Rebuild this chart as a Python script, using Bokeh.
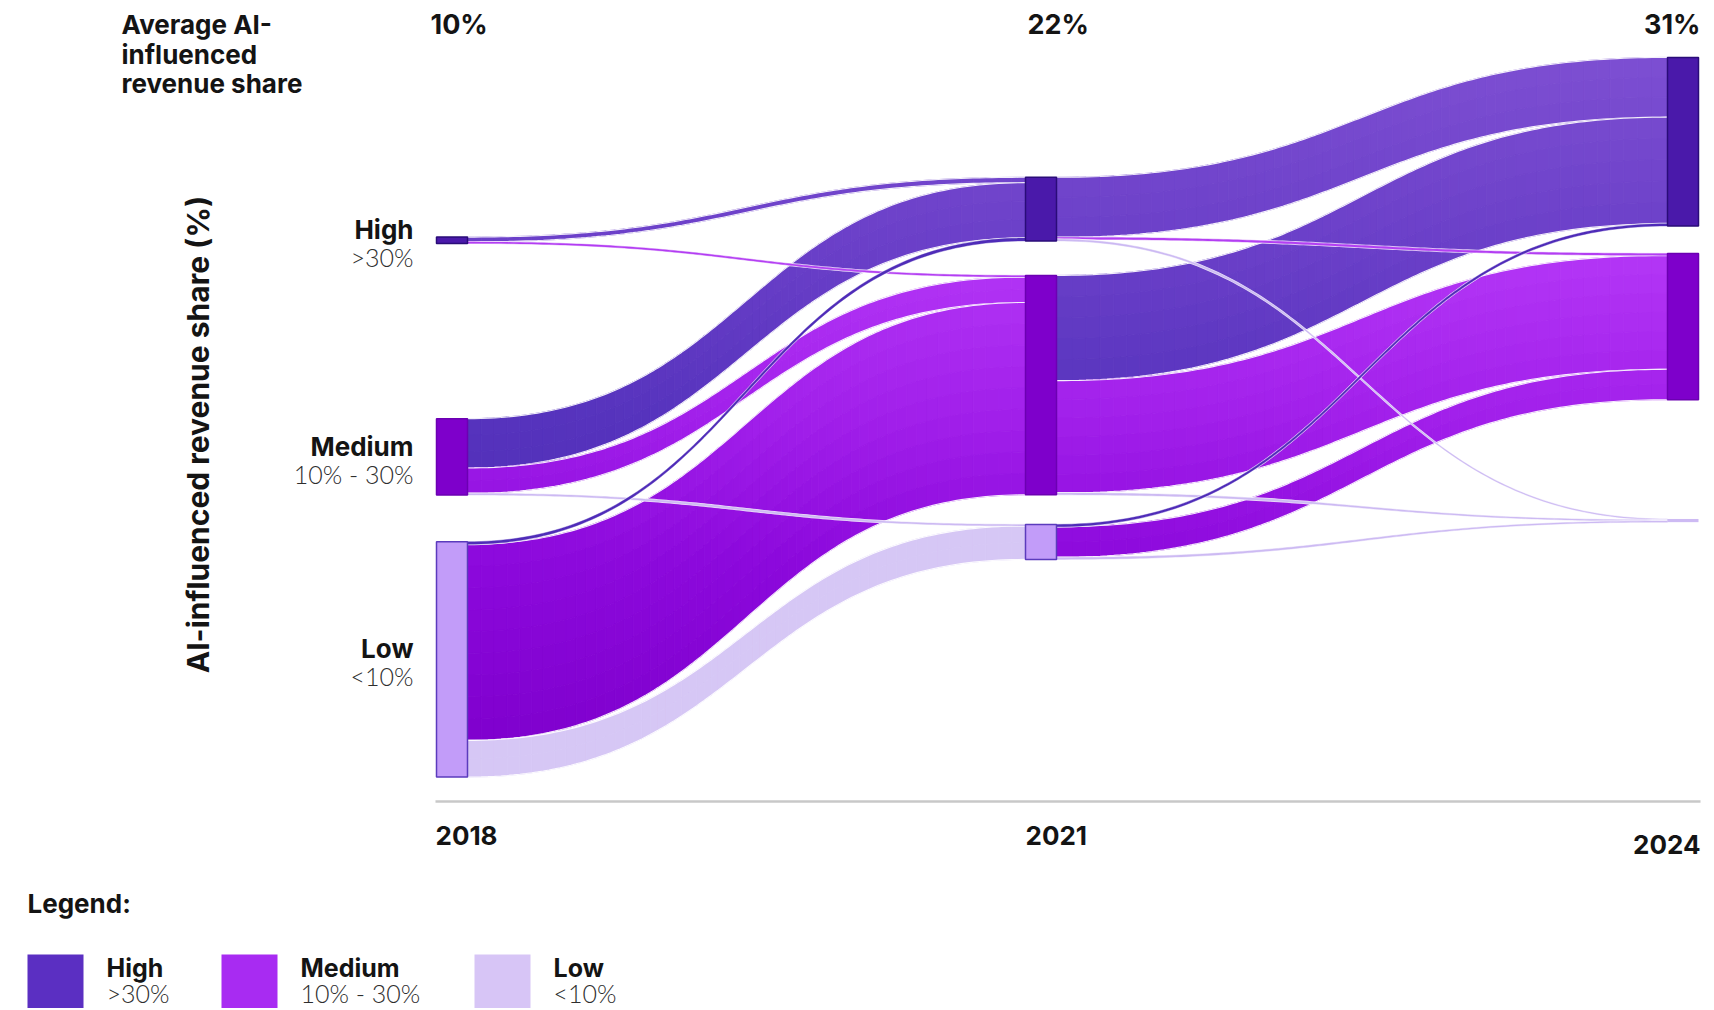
import math
import numpy as np
from bokeh.plotting import figure
from bokeh.models import Range1d, ColumnDataSource
from bokeh.embed import file_html
from bokeh.resources import INLINE
from bokeh.core.properties import value

# ---------------- data ----------------
years = ["2018", "2021", "2024"]
avg_ai_share = ["10%", "22%", "31%"]
categories = ["High", "Medium", "Low"]
category_ranges = [">30%", "10% - 30%", "<10%"]

# share of companies in each band (%)
share_2018 = [2, 24, 74]
share_2021 = [20, 69, 11]
share_2024 = [53, 46, 1]

# flows (% of companies): from band -> [to High, to Medium, to Low]
flow_2018_2021_from_high = [1.5, 0.5, 0.0]
flow_2018_2021_from_medium = [15.5, 8.0, 0.5]
flow_2018_2021_from_low = [0.8, 60.4, 11.3]

flow_2021_2024_from_high = [18.5, 0.6, 0.5]
flow_2021_2024_from_medium = [33.0, 35.2, 0.6]
flow_2021_2024_from_low = [0.7, 9.4, 0.6]

# ---------------- layout / style ----------------
W, H = 1714, 1008
PX = 3.18                      # pixels per 1 % of companies
COL_X = [436, 1025, 1667]      # left edge of each node column (px)
NODE_W = 31
COL_TOP = [74.4, 55.6, 17.9]   # top of first node (in % units from the top)
COL_GAPS = [[55.1, 14.7], [10.85, 9.3], [8.64, 37.5]]
THIN = 1.0

FONT = value("Inter")
LIGHT = value("Lato Light")
TEXT = "#141414"
SUB = "#2e2e2e"

NODE_FILL = ["#4a19aa", "#7e00cb", "#c29cf9"]
NODE_LINE = ["#2a0c78", "#6c00b2", "#5b3bbd"]
THIN_COLOR = ["#4f2cb8", "#b43ff3", "#cdbaf3"]
LEGEND_COLOR = ["#5b2fc2", "#a82bf2", "#d7c5f6"]
RAMPS = [
    [(40, "#7f50d3"), (250, "#6a3fc8"), (420, "#5633bd"), (600, "#4e2cb4")],
    [(240, "#b538f7"), (420, "#a11fea"), (560, "#8c09dc"), (760, "#7e00cc")],
    [(0, "#d6c7f5"), (1000, "#d6c7f5")],
]


def hex_rgb(h):
    return tuple(int(h[k:k + 2], 16) for k in (1, 3, 5))


def ramp_color(stops, ypx):
    if ypx <= stops[0][0]:
        return stops[0][1]
    for (ya, ca), (yb, cb) in zip(stops[:-1], stops[1:]):
        if ypx <= yb:
            f = (ypx - ya) / (yb - ya)
            a, b = hex_rgb(ca), hex_rgb(cb)
            return "#%02x%02x%02x" % tuple(int(round(a[k] + (b[k] - a[k]) * f)) for k in range(3))
    return stops[-1][1]


def py(px):
    return px / PX


def node_tops(shares, top, gaps):
    tops, y = [], top
    for k, s in enumerate(shares):
        tops.append(y)
        y += s
        if k < len(gaps):
            y += gaps[k]
    return tops


def flow_bands(F, src_share, src_tops, tgt_share, tgt_tops):
    n = len(F)
    out_tot = [sum(F[i]) for i in range(n)]
    in_tot = [sum(F[i][j] for i in range(n)) for j in range(n)]
    s_off = [0.0] * n
    t_off = [0.0] * n
    bands = []
    for i in range(n):
        for j in range(n):
            v = F[i][j]
            if v <= 0:
                continue
            ts = v / out_tot[i] * src_share[i]
            tt = v / in_tot[j] * tgt_share[j]
            y0t = src_tops[i] + s_off[i]
            y1t = tgt_tops[j] + t_off[j]
            bands.append((i, j, v, y0t, y0t + ts, y1t, y1t + tt))
            s_off[i] += ts
            t_off[j] += tt
    return bands


def xb(x0, x1, t):
    xm = (x0 + x1) / 2
    return (1 - t) ** 3 * x0 + 3 * (1 - t) * t * xm + t ** 3 * x1


def sb(t):
    return 3 * t ** 2 - 2 * t ** 3


p = figure(width=W, height=H, x_range=Range1d(0, W), y_range=Range1d(H / PX, 0),
           output_backend="svg", toolbar_location=None, x_axis_type=None, y_axis_type=None,
           min_border=0, min_border_left=0, min_border_right=0, min_border_top=0,
           min_border_bottom=0)
p.grid.visible = False
p.outline_line_color = None
p.background_fill_color = "white"
p.border_fill_color = "white"

shares = [share_2018, share_2021, share_2024]
tops = [node_tops(shares[c], COL_TOP[c], COL_GAPS[c]) for c in range(3)]
flows = [
    [flow_2018_2021_from_high, flow_2018_2021_from_medium, flow_2018_2021_from_low],
    [flow_2021_2024_from_high, flow_2021_2024_from_medium, flow_2021_2024_from_low],
]

T = np.linspace(0, 1, 61)
TF = np.linspace(0, 1, 121)

for c in range(2):
    x0 = COL_X[c] + NODE_W
    x1 = COL_X[c + 1]
    bands = flow_bands(flows[c], shares[c], tops[c], shares[c + 1], tops[c + 1])
    big = [b for b in bands if b[2] >= THIN]
    thin = [b for b in bands if b[2] < THIN]
    for (i, j, v, y0t, y0b, y1t, y1b) in big:
        n_strip = max(1, int(math.ceil(max(y0b - y0t, y1b - y1t) * PX / 22)))
        xs_l, ys_l, cols = [], [], []
        for a in range(len(T) - 1):
            ts_ = np.linspace(T[a], T[a + 1], 3)
            xseg = xb(x0, x1, ts_)
            te = y0t + (y1t - y0t) * sb(ts_)
            be = y0b + (y1b - y0b) * sb(ts_)
            for b in range(n_strip):
                ya = te + (be - te) * (b / n_strip)
                yb = te + (be - te) * ((b + 1) / n_strip)
                xs_l.append(list(xseg) + list(xseg[::-1]))
                ys_l.append(list(ya) + list(yb[::-1]))
                cols.append(ramp_color(RAMPS[j], float(np.mean(list(ya) + list(yb))) * PX))
        src = ColumnDataSource(dict(xs=xs_l, ys=ys_l, c=cols))
        p.patches("xs", "ys", fill_color="c", line_color="c", line_width=0.9, source=src)
        xf = xb(x0, x1, TF)
        p.multi_line([list(xf), list(xf)],
                     [list(y0t + (y1t - y0t) * sb(TF)), list(y0b + (y1b - y0b) * sb(TF))],
                     line_color="white", line_width=1.1, line_alpha=0.9)
    for (i, j, v, y0t, y0b, y1t, y1b) in thin:
        xf = xb(x0, x1, TF)
        te = y0t + (y1t - y0t) * sb(TF)
        be = y0b + (y1b - y0b) * sb(TF)
        h = 0.3
        p.patch(list(xf) + list(xf[::-1]), list(te - h) + list((be + h)[::-1]),
                fill_color="white", line_color=None, fill_alpha=0.85)
        p.patch(list(xf) + list(xf[::-1]), list(te) + list(be[::-1]),
                fill_color=THIN_COLOR[j], line_color=THIN_COLOR[j], line_width=0.4)

# nodes
for c in range(3):
    for k in range(3):
        if c == 2 and k == 2:
            p.quad(left=COL_X[c], right=COL_X[c] + NODE_W, top=tops[c][k],
                   bottom=tops[c][k] + shares[c][k], fill_color=THIN_COLOR[2], line_color=None)
            continue
        p.quad(left=COL_X[c], right=COL_X[c] + NODE_W, top=tops[c][k],
               bottom=tops[c][k] + shares[c][k], fill_color=NODE_FILL[k],
               line_color=NODE_LINE[k], line_width=1.5)


def txt(x, ypx, s, size, bold=True, align="left", color=TEXT, angle=0.0, font=FONT):
    p.text(x=[x], y=[py(ypx)], text=[s], text_font=font, text_font_size=f"{size}px",
           text_font_style="bold" if bold else "normal", text_color=color,
           text_align=align, text_baseline="middle", angle=angle)


# header
for k, line in enumerate(["Average AI-", "influenced", "revenue share"]):
    txt(121, 24 + 29.5 * k, line, 26)
txt(COL_X[0] - 6, 24, avg_ai_share[0], 27)
txt(COL_X[1] + 2, 24, avg_ai_share[1], 27)
txt(COL_X[2] + NODE_W + 2, 24, avg_ai_share[2], 27, align="right")

# band labels beside the 2018 nodes
for k in range(3):
    cy = (tops[0][k] + shares[0][k] / 2) * PX
    txt(413, cy - 10.5, categories[k], 26, align="right")
    txt(413, cy + 17, category_ranges[k], 25, bold=False, align="right", color=SUB, font=LIGHT)

# vertical axis title
txt(197, 434, "AI-influenced revenue share (%)", 30, align="center", angle=math.pi / 2)

# baseline and years
p.line([COL_X[0] - 1, COL_X[2] + NODE_W + 2], [py(801), py(801)], line_color="#c8c8c8", line_width=2.5)
txt(COL_X[0] - 1, 835, years[0], 26)
txt(COL_X[1], 835, years[1], 26)
txt(COL_X[2] + NODE_W + 2, 844, years[2], 26, align="right")

# legend
txt(27, 903, "Legend:", 26)
LEG_X = [27, 221, 474]
for k in range(3):
    p.quad(left=LEG_X[k], right=LEG_X[k] + 56, top=py(954), bottom=py(1010),
           fill_color=LEGEND_COLOR[k], line_color=None)
    txt(LEG_X[k] + 79, 967, categories[k], 25)
    txt(LEG_X[k] + 79, 992, category_ranges[k], 25, bold=False, color=SUB, font=LIGHT)

open("out.html", "w").write(file_html(p, INLINE))
